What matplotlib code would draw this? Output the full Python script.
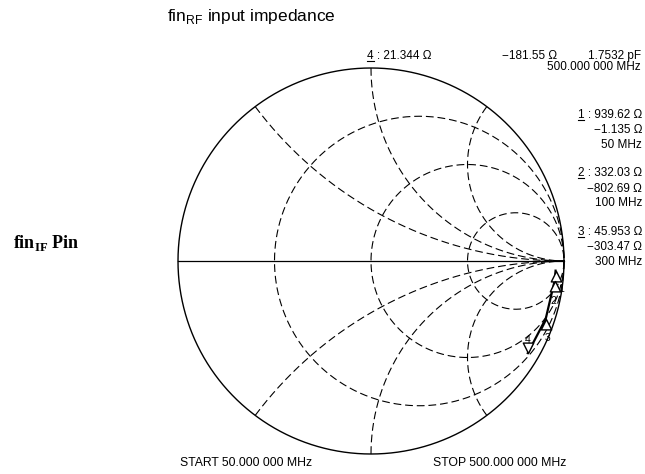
import numpy as np
import matplotlib
matplotlib.use("Agg")
import matplotlib.pyplot as plt
from matplotlib.path import Path
from matplotlib.lines import Line2D

# marker readouts, reference impedance 50 ohm
marker_ids = ["1", "2", "3", "4"]
freq_mhz = [50, 100, 300, 500]
res_ohm = [939.62, 332.03, 45.953, 21.344]
react_ohm = [-1135.0, -802.69, -303.47, -181.55]
res_text = ["939.62 Ω", "332.03 Ω", "45.953 Ω", "21.344 Ω"]
react_text = ["−1.135 Ω", "−802.69 Ω", "−303.47 Ω", "−181.55 Ω"]
freq_text = ["50 MHz", "100 MHz", "300 MHz", "500.000 000 MHz"]
cap_text = "1.7532 pF"
z0 = 50.0

# chart grid (normalised)
r_circles = [1/3, 1, 3]
x_arcs = [0.5, 1, 2]

W, H = 645, 474
fig = plt.figure(figsize=(W / 100, H / 100), dpi=100)

# smith chart area, centre and radius in pixels
cx, cy, R = 371, 261, 193
ax = fig.add_axes([(cx - R) / W, 1 - (cy + R) / H, 2 * R / W, 2 * R / H])
ax.set_xlim(-1, 1)
ax.set_ylim(-1, 1)
ax.axis("off")

def gamma(z):
    return (z - 1) / (z + 1)

t = np.linspace(0, 2 * np.pi, 721)
ax.plot(np.cos(t), np.sin(t), color="black", lw=1.0, clip_on=False)
ax.plot([-1, 1], [0, 0], color="black", lw=0.9, clip_on=False)

dash = dict(color="black", lw=0.8, ls=(0, (7, 3.5)), clip_on=False)
xs = np.concatenate([-np.logspace(3, -3, 600), np.logspace(-3, 3, 600)])
for r in r_circles:
    g = gamma(r + 1j * xs)
    ax.plot(g.real, g.imag, **dash)
rs = np.concatenate([[0], np.logspace(-3, 3, 800)])
for x in x_arcs:
    for s in (1, -1):
        g = gamma(rs + 1j * s * x)
        ax.plot(g.real, g.imag, **dash)

# measured trace
z = (np.array(res_ohm) + 1j * np.array(react_ohm)) / z0
g = gamma(z)
ax.plot(g.real, g.imag, color="black", lw=1.6, clip_on=False)

up = Path([(0, 0), (-0.5, -1), (0.5, -1), (0, 0)],
          [Path.MOVETO, Path.LINETO, Path.LINETO, Path.CLOSEPOLY])
down = Path([(0, 0), (-0.5, 1), (0.5, 1), (0, 0)],
            [Path.MOVETO, Path.LINETO, Path.LINETO, Path.CLOSEPOLY])
# label offsets in points
label_off = [(4, -13.5), (-1, -15), (1, -14), (0, 9.5)]
for i, mid in enumerate(marker_ids):
    active = i == len(marker_ids) - 1
    ax.plot(g.real[i], g.imag[i], marker=down if active else up, ms=15,
            mfc="white", mec="black", mew=1.0, ls="none", clip_on=False)
    ax.annotate(mid, (g.real[i], g.imag[i]), xytext=label_off[i],
                textcoords="offset points", ha="center", va="center",
                fontsize=7.5, family="Liberation Sans", annotation_clip=False)

rend = fig.canvas.get_renderer()

def put(x, y, s, ha="left", size=8.5, **kw):
    return fig.text(x / W, 1 - y / H, s, ha=ha, va="center", fontsize=size,
                    family="Liberation Sans", **kw)

def underline_first(txt):
    bb = txt.get_window_extent(rend)
    tmp = fig.text(0, 0, txt.get_text()[0], fontproperties=txt.get_fontproperties())
    w = tmp.get_window_extent(rend).width
    tmp.remove()
    y = (bb.y0 + 1.2) / H
    fig.add_artist(Line2D([bb.x0 / W, (bb.x0 + w) / W], [y, y],
                          transform=fig.transFigure, color="black", lw=0.8))

put(167, 17, r"fin$_\mathregular{RF}$ input impedance", size=12.5)
fig.text(13 / W, 1 - 243 / H, r"fin$_\mathregular{IF}$ Pin", ha="left", va="center",
         fontsize=13, family="Liberation Serif", weight="bold")

# active marker readout along the top
underline_first(put(367, 56, f"{marker_ids[3]} : {res_text[3]}"))
put(502, 56, react_text[3])
put(641, 56, cap_text, ha="right")
put(641, 67, freq_text[3], ha="right")

# readouts for markers 1-3
for i in range(3):
    y0 = 115 + 58.5 * i
    underline_first(put(642, y0, f"{marker_ids[i]} : {res_text[i]}", ha="right"))
    put(642, y0 + 15, react_text[i], ha="right")
    put(642, y0 + 30, freq_text[i], ha="right")

put(180, 463, f"START {freq_mhz[0]}.000 000 MHz", size=8.8)
put(433, 463, f"STOP {freq_mhz[-1]}.000 000 MHz", size=8.8)

fig.savefig("out.png", dpi=100)
